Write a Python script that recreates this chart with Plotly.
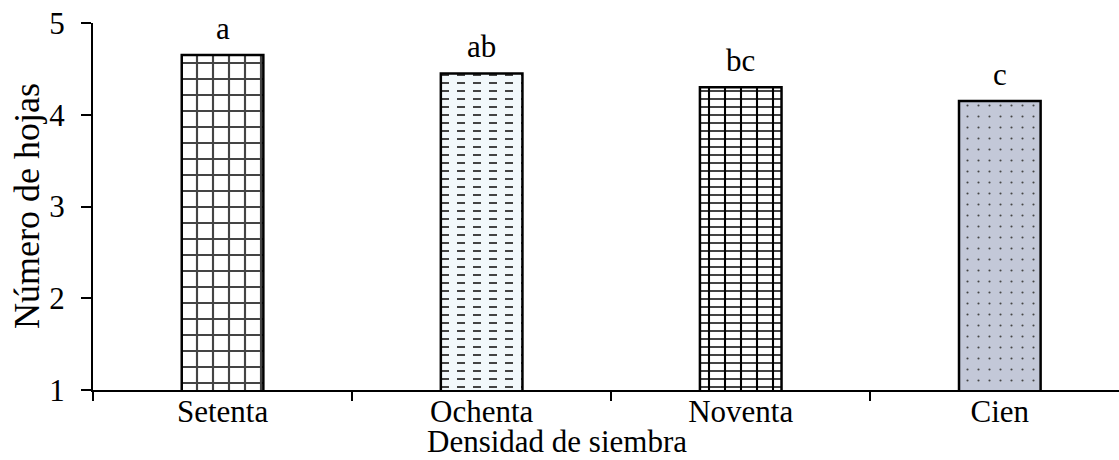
import plotly.graph_objects as go

categories = ["Setenta", "Ochenta", "Noventa", "Cien"]
values = [4.65, 4.45, 4.30, 4.15]
letters = ["a", "ab", "bc", "c"]

# base pattern layer
shapes1 = ["+", "-", "-", "."]
fg1 = ["#000000", "#111111", "#000000", "#111111"]
bg1 = ["#ffffff", "#f2f8fb", "#ffffff", "#c3c8d8"]
size1 = [16, 8, 8, 11]
solid1 = [0.25, 0.25, 0.25, 0.03]

# second pattern layer (dash breaks / brick joints)
shapes2 = ["", "|", "|", ""]
fg2 = ["#000000", "#f2f8fb", "#000000", "#000000"]
size2 = [16, 16, 16, 16]
solid2 = [0.1, 0.5, 0.13, 0.1]

FONT = "Liberation Serif, Times New Roman, serif"

fig = go.Figure()
fig.add_trace(go.Bar(
    x=categories, y=values, width=0.315,
    marker=dict(
        color=bg1,
        line=dict(width=0),
        pattern=dict(shape=shapes1, fgcolor=fg1, bgcolor=bg1, size=size1,
                     solidity=solid1, fillmode="overlay", fgopacity=1),
    ),
    showlegend=False, hoverinfo="skip",
))
fig.add_trace(go.Bar(
    x=categories, y=values, width=0.315,
    marker=dict(
        color="rgba(0,0,0,0)",
        line=dict(color="black", width=2.5),
        pattern=dict(shape=shapes2, fgcolor=fg2, size=size2,
                     solidity=solid2, fillmode="overlay", fgopacity=1),
    ),
    showlegend=False,
))

for c, v, t in zip(categories, values, letters):
    fig.add_annotation(x=c, y=v, text=t, showarrow=False, yanchor="bottom",
                       yshift=7, font=dict(family=FONT, size=31, color="black"))

# axis titles
fig.add_annotation(xref="paper", yref="paper", x=(557 - 93) / 1026, y=(390 - 441) / 367,
                   text="Densidad de siembra", showarrow=False, yanchor="middle",
                   xanchor="center", font=dict(family=FONT, size=31, color="black"))
fig.add_annotation(xref="paper", yref="paper", x=(27 - 93) / 1026, y=(390 - 206) / 367,
                   text="Número de hojas", showarrow=False, textangle=-90,
                   xanchor="center", yanchor="middle",
                   font=dict(family=FONT, size=36, color="black"))

fig.update_layout(
    width=1119, height=460,
    margin=dict(l=93, r=0, t=23, b=70),
    plot_bgcolor="white", paper_bgcolor="white",
    font=dict(family=FONT, size=31, color="black"),
    barmode="overlay",
)
fig.update_xaxes(
    range=[-0.5, 3.46], showline=True, linecolor="black", linewidth=2,
    ticks="outside", tickson="boundaries", ticklen=9, tickwidth=2, tickcolor="black",
    showgrid=False, automargin=False, tickfont=dict(size=31), ticklabelstandoff=-7,
)
fig.update_yaxes(
    range=[1, 5], dtick=1, showline=True, linecolor="black", linewidth=2,
    ticks="outside", ticklen=10, tickwidth=2, tickcolor="black",
    showgrid=False, zeroline=False, automargin=False, tickfont=dict(size=31),
    ticklabelstandoff=10,
)

fig.write_html("out.html", config={"displayModeBar": False},
               post_script="document.body.style.margin='0px';")
